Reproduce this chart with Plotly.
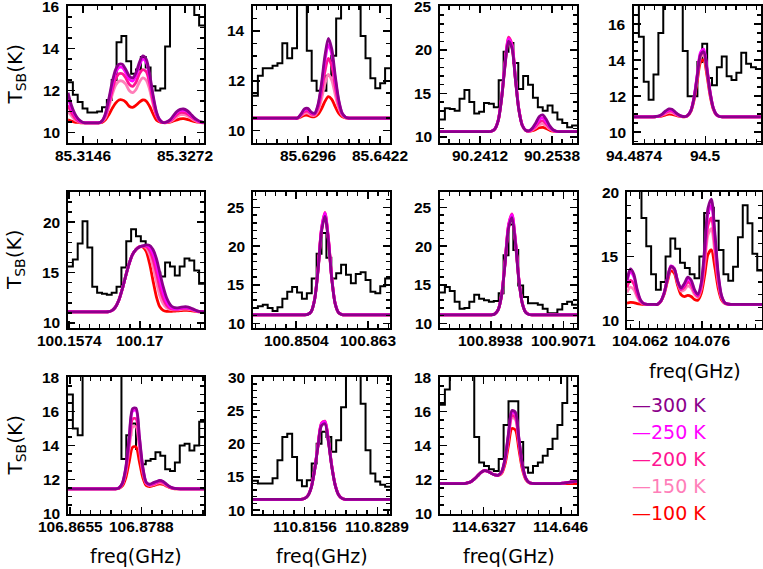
import numpy as np
import plotly.graph_objects as go

# ---------------- data ----------------
TICK_VALS = [[85.3146, 85.3272], [85.6296, 85.6422], [90.2412, 90.2538], [94.4874, 94.5],
             [100.1574, 100.17], [100.8504, 100.863], [100.8938, 100.9071], [104.062, 104.076],
             [106.8655, 106.8788], [110.8156, 110.8289], [114.6327, 114.646]]
TICK_TEXT = [["85.3146", "85.3272"], ["85.6296", "85.6422"], ["90.2412", "90.2538"], ["94.4874", "94.5"],
             ["100.1574", "100.17"], ["100.8504", "100.863"], ["100.8938", "100.9071"], ["104.062", "104.076"],
             ["106.8655", "106.8788"], ["110.8156", "110.8289"], ["114.6327", "114.646"]]

# first channel edge (GHz), channel width of observed spectrum, spacing of model samples
FREQ0 = [85.31275, 85.6200, 90.2342, 94.48735, 100.1572, 100.8428, 100.8845, 104.0592, 106.8651, 110.8062, 114.6252]
FREQ1 = [85.32955, 85.6440, 90.2582, 94.5098, 100.1814, 100.8669, 100.9096, 104.0894, 106.8904, 110.8312, 114.6488]
OBS_DF = [0.0006, 0.000857, 0.000857, 0.000862, 0.000864, 0.000861, 0.000896, 0.001079, 0.000904, 0.000893, 0.000843]
MOD_DF = [0.00042, 0.0006, 0.0006, 0.00056, 0.000605, 0.0006025, 0.0006275, 0.000755, 0.0006325, 0.000625, 0.00059]

OBS_T = [
    [12.4, 11.8, 11.45, 11.15, 10.95, 10.95, 11.0, 11.2, 11.55, 12.5, 14.3, 14.6, 13.4, 12.8, 13.0, 13.6, 13.1, 12.2, 12.0, 12.1, 14.1, 17, 17, 17, 17, 16.2, 15.6, 15.1],
    [11.4, 12.2, 12.5, 12.5, 12.6, 12.7, 13.5, 12.9, 13.3, 16, 16, 13.2, 12.0, 11.6, 11.6, 12.2, 13.0, 14.5, 16, 16, 16, 16, 13.8, 12.9, 12.1, 11.7, 11.9, 12.5],
    [12.0, 13.3, 13.2, 13.0, 14.4, 15.4, 14.0, 12.7, 12.9, 13.9, 13.8, 13.4, 16.5, 19.8, 20.8, 18.5, 15.5, 17.0, 16.0, 14.5, 13.4, 13.0, 13.6, 12.8, 12.0, 11.6, 11.1, 11.3],
    [17.5, 15.3, 12.8, 11.8, 13.2, 15.5, 17.5, 17.5, 17.5, 17.5, 14.5, 12.0, 12.0, 13.9, 14.9, 13.0, 12.6, 13.6, 14.2, 13.1, 12.9, 13.3, 14.4, 13.8, 13.6, 13.5],
    [15.6, 16.3, 17.9, 20.1, 17.5, 13.6, 13.0, 12.9, 12.8, 13.0, 13.6, 15.5, 18.1, 19.3, 18.6, 18.1, 17.6, 16.5, 15.0, 14.6, 16.0, 15.6, 14.7, 15.6, 16.4, 16.2, 15.2, 13.9],
    [12.0, 12.2, 12.4, 12.0, 11.6, 12.1, 13.2, 14.1, 14.7, 14.0, 13.2, 13.9, 15.8, 19.0, 21.7, 18.5, 15.8, 16.5, 17.6, 16.3, 15.2, 16.4, 16.6, 15.6, 14.1, 13.9, 14.8, 15.8],
    [14.0, 14.7, 14.2, 12.8, 11.9, 12.0, 12.8, 13.7, 13.2, 13.0, 12.8, 12.9, 13.9, 18.8, 22.8, 19.5, 14.9, 13.4, 12.6, 12.6, 12.4, 11.9, 11.3, 11.3, 11.8, 12.5, 12.8, 12.4],
    [21, 21, 20.5, 18.0, 15.8, 13.6, 12.4, 13.0, 15.0, 16.4, 15.6, 14.5, 14.1, 13.6, 13.3, 15.0, 18.4, 18.8, 17.8, 15.5, 13.6, 13.1, 14.2, 16.5, 19.0, 17.6, 15.2, 13.9],
    [17.0, 15.0, 14.6, 19, 19, 19, 19, 19, 19, 19, 19, 13.2, 14.6, 15.3, 13.8, 12.9, 13.1, 13.2, 13.6, 13.4, 12.6, 12.5, 13.0, 14.0, 14.1, 13.7, 14.0, 15.4],
    [14.4, 14.0, 14.0, 14.0, 14.8, 17.5, 21.0, 21.5, 18.0, 14.5, 13.6, 14.5, 17.0, 20.0, 21.8, 21.0, 18.8, 20.5, 25.5, 31, 31, 31, 26, 19.0, 15.5, 14.3, 13.8, 13.5],
    [16.4, 17.3, 19, 19, 19, 19, 19, 14.5, 13.0, 12.8, 12.6, 12.5, 13.2, 15.2, 16.6, 16.6, 14.2, 12.7, 12.4, 12.8, 13.0, 13.4, 13.8, 14.4, 15.2, 16.5, 19, 19],
]

T300 = [
    [11.9, 11.3, 10.9, 10.65, 10.52] + [10.46] * 5 + [10.55, 10.9, 11.6, 12.4, 13.0, 13.25, 13.25, 13.0, 12.7, 12.6, 12.85, 13.35, 13.65, 13.5, 12.8, 11.8, 11.0, 10.6, 10.47, 10.5, 10.6, 10.8, 11.0, 11.1, 11.12, 11.05, 10.9, 10.72, 10.6, 10.52, 10.48],
    [10.5] * 14 + [10.66, 10.87, 10.89, 10.74, 10.69, 11.05, 11.89, 13.0, 13.7, 13.28, 12.21, 11.25, 10.71, 10.54] + [10.5] * 13,
    [10.6] * 15 + [10.65, 10.9, 11.87, 14.42, 18.23, 20.99, 20.25, 16.64, 13.14, 11.34, 10.77, 10.71, 11.03, 11.63, 12.34, 12.53, 12.02, 11.3, 10.83, 10.65] + [10.6] * 6,
    [10.85] * 7 + [10.87, 10.91, 11.02, 11.18, 11.29, 11.27, 11.12, 10.98, 10.89, 10.86, 10.94, 11.21, 11.94, 13.16, 14.29, 14.46, 13.51, 12.22, 11.35, 10.98, 10.87] + [10.85] * 13,
    [11.1] * 12 + [11.12, 11.25, 11.6, 12.3, 13.4, 14.7, 15.9, 16.8, 17.3, 17.55, 17.65, 17.75, 17.7, 17.3, 16.4, 15.0, 13.6, 12.5, 11.85, 11.55, 11.5, 11.55, 11.6, 11.6, 11.5, 11.35, 11.2, 11.12, 11.1],
    [11.1] * 16 + [11.16, 11.52, 13.07, 16.86, 21.85, 23.85, 20.7, 15.71, 12.51, 11.37, 11.14] + [11.1] * 14,
    [11.1] * 16 + [11.21, 11.77, 13.64, 17.7, 22.28, 23.67, 20.5, 15.67, 12.62, 11.43, 11.15] + [11.1] * 14,
    [13.18, 14.02, 13.63, 12.43, 11.6, 11.31, 11.25, 11.25, 11.25, 11.25, 11.49, 12.13, 13.29, 14.21, 14.03, 13.06, 12.53, 12.88, 13.38, 13.15, 12.41, 12.03, 12.94, 15.62, 18.78, 19.48, 16.96, 13.74, 11.95, 11.38, 11.27] + [11.25] * 10,
    [11.45] * 15 + [11.51, 11.79, 12.7, 14.5, 16.17, 16.2, 14.53, 12.74, 11.84, 11.72, 11.8, 11.88, 11.95, 11.88, 11.72, 11.57, 11.49, 11.46] + [11.45] * 8,
    [11.6] * 15 + [11.72, 12.14, 13.36, 15.99, 19.67, 22.72, 23.01, 20.32, 16.51, 13.71, 12.27, 11.75] + [11.6] * 14,
    [11.76] * 8 + [11.8, 11.87, 12.02, 12.22, 12.42, 12.52, 12.48, 12.36, 12.27, 12.26, 12.46, 13.24, 14.73, 16.06, 15.96, 14.5, 12.95, 12.1, 11.83, 11.77] + [11.76] * 8 + [11.79, 11.82, 11.85, 11.88, 11.9],
]
T250 = [
    [11.7, 11.15, 10.85, 10.62, 10.5] + [10.46] * 5 + [10.55, 10.85, 11.5, 12.25, 12.85, 13.1, 13.1, 12.85, 12.55, 12.45, 12.7, 13.2, 13.5, 13.35, 12.65, 11.7, 10.95, 10.6, 10.47, 10.5, 10.58, 10.75, 10.95, 11.05, 11.05, 11.0, 10.85, 10.7, 10.58, 10.5, 10.48],
    [10.5] * 14 + [10.65, 10.83, 10.85, 10.71, 10.68, 11.01, 11.78, 12.8, 13.45, 13.07, 12.08, 11.19, 10.7, 10.54] + [10.5] * 13,
    [10.6] * 15 + [10.65, 10.91, 11.91, 14.52, 18.45, 21.28, 20.52, 16.81, 13.22, 11.36, 10.77, 10.69, 10.95, 11.45, 12.02, 12.18, 11.77, 11.18, 10.79, 10.64] + [10.6] * 6,
    [10.85] * 7 + [10.86, 10.9, 11.0, 11.14, 11.24, 11.22, 11.09, 10.96, 10.89, 10.86, 10.94, 11.23, 11.99, 13.26, 14.43, 14.61, 13.62, 12.27, 11.37, 10.98, 10.87] + [10.85] * 13,
    [11.1] * 12 + [11.12, 11.25, 11.6, 12.3, 13.4, 14.7, 15.9, 16.8, 17.3, 17.55, 17.65, 17.7, 17.5, 16.9, 15.8, 14.3, 13.0, 12.1, 11.6, 11.42, 11.4, 11.45, 11.5, 11.5, 11.42, 11.3, 11.18, 11.12, 11.1],
    [11.1] * 16 + [11.17, 11.54, 13.13, 17.04, 22.19, 24.25, 21.0, 15.85, 12.55, 11.38, 11.14] + [11.1] * 14,
    [11.1] * 16 + [11.22, 11.79, 13.72, 17.91, 22.63, 24.07, 20.79, 15.82, 12.67, 11.44, 11.15] + [11.1] * 14,
    [13.01, 13.77, 13.42, 12.32, 11.57, 11.31, 11.25, 11.25, 11.25, 11.25, 11.5, 12.15, 13.33, 14.26, 14.07, 13.07, 12.49, 12.78, 13.23, 13.02, 12.31, 11.98, 12.83, 15.36, 18.34, 18.99, 16.62, 13.59, 11.91, 11.37, 11.27] + [11.25] * 10,
    [11.45] * 15 + [11.51, 11.77, 12.66, 14.41, 16.03, 16.06, 14.44, 12.7, 11.83, 11.7, 11.77, 11.85, 11.93, 11.86, 11.7, 11.56, 11.49, 11.46] + [11.45] * 8,
    [11.6] * 15 + [11.72, 12.15, 13.4, 16.1, 19.88, 23.0, 23.3, 20.54, 16.64, 13.76, 12.28, 11.76] + [11.6] * 14,
    [11.76] * 8 + [11.8, 11.87, 12.02, 12.22, 12.42, 12.52, 12.48, 12.36, 12.27, 12.25, 12.45, 13.21, 14.67, 15.96, 15.86, 14.44, 12.92, 12.09, 11.83, 11.77] + [11.76] * 8 + [11.79, 11.82, 11.85, 11.88, 11.9],
]
T200 = [
    [11.3, 10.95, 10.7, 10.55, 10.48] + [10.46] * 5 + [10.53, 10.8, 11.35, 12.0, 12.55, 12.8, 12.8, 12.6, 12.3, 12.2, 12.4, 12.8, 13.0, 12.9, 12.35, 11.5, 10.85, 10.55, 10.47, 10.5, 10.55, 10.68, 10.85, 10.95, 10.95, 10.9, 10.78, 10.65, 10.55, 10.5, 10.47],
    [10.5] * 14 + [10.62, 10.76, 10.78, 10.67, 10.65, 10.91, 11.54, 12.37, 12.9, 12.59, 11.78, 11.06, 10.66, 10.53] + [10.5] * 13,
    [10.6] * 15 + [10.65, 10.91, 11.93, 14.6, 18.59, 21.48, 20.7, 16.93, 13.26, 11.38, 10.77, 10.67, 10.88, 11.26, 11.71, 11.84, 11.51, 11.05, 10.75, 10.63] + [10.6] * 6,
    [10.85] * 7 + [10.86, 10.89, 10.98, 11.09, 11.17, 11.16, 11.05, 10.94, 10.88, 10.86, 10.94, 11.22, 11.96, 13.19, 14.34, 14.51, 13.55, 12.24, 11.36, 10.98, 10.87] + [10.85] * 13,
    [11.1] * 12 + [11.12, 11.25, 11.6, 12.3, 13.4, 14.7, 15.9, 16.8, 17.3, 17.55, 17.6, 17.6, 17.2, 16.3, 15.0, 13.5, 12.4, 11.75, 11.45, 11.35, 11.35, 11.4, 11.45, 11.45, 11.38, 11.28, 11.17, 11.12, 11.1],
    [11.1] * 16 + [11.17, 11.54, 13.15, 17.09, 22.27, 24.35, 21.08, 15.89, 12.56, 11.38, 11.14] + [11.1] * 14,
    [11.1] * 16 + [11.22, 11.8, 13.74, 17.96, 22.72, 24.17, 20.87, 15.85, 12.68, 11.44, 11.15] + [11.1] * 14,
    [12.56, 13.13, 12.87, 12.05, 11.49, 11.29, 11.25, 11.25, 11.25, 11.25, 11.49, 12.13, 13.29, 14.21, 14.03, 13.03, 12.4, 12.61, 12.99, 12.8, 12.19, 11.88, 12.63, 14.84, 17.44, 18.01, 15.94, 13.29, 11.82, 11.35, 11.26] + [11.25] * 10,
    [11.45] * 15 + [11.5, 11.74, 12.54, 14.1, 15.56, 15.58, 14.13, 12.57, 11.78, 11.67, 11.72, 11.81, 11.88, 11.82, 11.68, 11.55, 11.48, 11.46] + [11.45] * 8,
    [11.6] * 15 + [11.72, 12.16, 13.42, 16.14, 19.95, 23.1, 23.4, 20.61, 16.68, 13.78, 12.29, 11.76] + [11.6] * 14,
    [11.76] * 8 + [11.8, 11.87, 12.02, 12.22, 12.42, 12.52, 12.48, 12.36, 12.27, 12.25, 12.43, 13.16, 14.54, 15.77, 15.67, 14.32, 12.87, 12.08, 11.82, 11.77] + [11.76] * 8 + [11.79, 11.82, 11.85, 11.88, 11.9],
]
T150 = [
    [11.0, 10.8, 10.6, 10.52, 10.47] + [10.46] * 5 + [10.52, 10.7, 11.2, 11.8, 12.25, 12.45, 12.45, 12.3, 12.0, 11.9, 12.05, 12.4, 12.6, 12.5, 12.05, 11.35, 10.8, 10.55, 10.47, 10.48, 10.52, 10.62, 10.75, 10.85, 10.85, 10.8, 10.7, 10.6, 10.52, 10.48, 10.47],
    [10.5] * 14 + [10.59, 10.69, 10.7, 10.62, 10.61, 10.8, 11.26, 11.87, 12.25, 12.02, 11.44, 10.91, 10.62, 10.52] + [10.5] * 13,
    [10.6] * 15 + [10.65, 10.91, 11.92, 14.56, 18.52, 21.38, 20.61, 16.87, 13.24, 11.37, 10.76, 10.65, 10.8, 11.08, 11.4, 11.49, 11.26, 10.92, 10.71, 10.62] + [10.6] * 6,
    [10.85] * 7 + [10.86, 10.88, 10.95, 11.03, 11.1, 11.08, 11.0, 10.92, 10.87, 10.86, 10.93, 11.2, 11.9, 13.07, 14.15, 14.31, 13.41, 12.16, 11.33, 10.97, 10.87] + [10.85] * 13,
    [11.1] * 12 + [11.12, 11.25, 11.6, 12.3, 13.4, 14.7, 15.9, 16.8, 17.3, 17.55, 17.6, 17.45, 16.8, 15.6, 14.1, 12.7, 11.9, 11.5, 11.35, 11.3, 11.3, 11.33, 11.38, 11.38, 11.33, 11.25, 11.15, 11.1, 11.1],
    [11.1] * 16 + [11.17, 11.53, 13.13, 17.02, 22.15, 24.2, 20.96, 15.83, 12.55, 11.38, 11.14] + [11.1] * 14,
    [11.1] * 16 + [11.22, 11.79, 13.71, 17.89, 22.58, 24.02, 20.76, 15.8, 12.67, 11.44, 11.15] + [11.1] * 14,
    [12.18, 12.59, 12.4, 11.82, 11.42, 11.28, 11.25, 11.25, 11.25, 11.25, 11.49, 12.11, 13.23, 14.11, 13.93, 12.94, 12.29, 12.39, 12.69, 12.53, 12.02, 11.79, 12.46, 14.4, 16.68, 17.18, 15.36, 13.04, 11.75, 11.34, 11.26] + [11.25] * 10,
    [11.45] * 15 + [11.5, 11.71, 12.41, 13.8, 15.08, 15.11, 13.82, 12.44, 11.75, 11.64, 11.68, 11.76, 11.82, 11.77, 11.65, 11.54, 11.48, 11.46] + [11.45] * 8,
    [11.6] * 15 + [11.72, 12.15, 13.39, 16.08, 19.85, 22.95, 23.25, 20.5, 16.62, 13.75, 12.28, 11.76] + [11.6] * 14,
    [11.76] * 8 + [11.8, 11.87, 12.02, 12.22, 12.42, 12.52, 12.48, 12.36, 12.27, 12.25, 12.42, 13.11, 14.44, 15.63, 15.53, 14.22, 12.83, 12.07, 11.82, 11.77] + [11.76] * 8 + [11.79, 11.82, 11.85, 11.88, 11.9],
]
T100 = [
    [10.6, 10.55, 10.5, 10.48, 10.46] + [10.46] * 5 + [10.48, 10.6, 10.85, 11.15, 11.4, 11.55, 11.55, 11.45, 11.25, 11.2, 11.3, 11.45, 11.55, 11.5, 11.25, 10.9, 10.6, 10.5, 10.47, 10.47, 10.5, 10.55, 10.6, 10.65, 10.66, 10.63, 10.58, 10.53, 10.5, 10.47, 10.46],
    [10.5] * 14 + [10.55, 10.61, 10.61, 10.56, 10.56, 10.65, 10.87, 11.17, 11.36, 11.25, 10.96, 10.7, 10.56, 10.51] + [10.5] * 13,
    [10.6] * 15 + [10.65, 10.9, 11.88, 14.45, 18.3, 21.09, 20.34, 16.7, 13.17, 11.35, 10.75, 10.63, 10.71, 10.87, 11.05, 11.1, 10.97, 10.78, 10.66, 10.61] + [10.6] * 6,
    [10.85] * 7 + [10.86, 10.87, 10.91, 10.96, 11.0, 10.99, 10.94, 10.89, 10.86, 10.85, 10.92, 11.17, 11.81, 12.88, 13.87, 14.02, 13.19, 12.05, 11.29, 10.96, 10.87] + [10.85] * 13,
    [11.1] * 12 + [11.12, 11.25, 11.6, 12.3, 13.4, 14.7, 15.9, 16.8, 17.3, 17.55, 17.55, 17.1, 15.9, 14.2, 12.6, 11.6, 11.25, 11.15, 11.15, 11.17, 11.2, 11.22, 11.25, 11.25, 11.22, 11.18, 11.13, 11.1, 11.1],
    [11.1] * 16 + [11.17, 11.53, 13.1, 16.95, 22.02, 24.05, 20.85, 15.78, 12.53, 11.37, 11.14] + [11.1] * 14,
    [11.1] * 16 + [11.22, 11.78, 13.68, 17.81, 22.45, 23.87, 20.65, 15.74, 12.65, 11.44, 11.15] + [11.1] * 14,
    [11.35, 11.4, 11.38, 11.31, 11.27, 11.25, 11.25, 11.25, 11.25, 11.25, 11.47, 12.03, 13.06, 13.87, 13.69, 12.74, 12.01, 11.86, 11.96, 11.87, 11.63, 11.58, 12.11, 13.51, 15.15, 15.51, 14.21, 12.54, 11.61, 11.32, 11.26] + [11.25] * 10,
    [11.45] * 15 + [11.48, 11.62, 12.1, 13.04, 13.9, 13.92, 13.05, 12.12, 11.65, 11.58, 11.63, 11.7, 11.75, 11.71, 11.61, 11.52, 11.47, 11.45] + [11.45] * 8,
    [11.6] * 15 + [11.72, 12.15, 13.39, 16.06, 19.81, 22.9, 23.2, 20.47, 16.6, 13.74, 12.28, 11.75] + [11.6] * 14,
    [11.76] * 8 + [11.8, 11.87, 12.02, 12.22, 12.42, 12.52, 12.48, 12.36, 12.27, 12.24, 12.36, 12.92, 14.02, 15.0, 14.92, 13.82, 12.65, 12.02, 11.81, 11.77] + [11.76] * 8 + [11.76] * 5,
]

TEMP_LABELS = ["300 K", "250 K", "200 K", "150 K", "100 K"]

# ---------------- styling / layout ----------------
Y_RANGE = [[9.5, 16.03], [9.5, 15.0], [9.3, 25.05], [9.4, 17.0], [9.5, 23.0], [9.4, 27.0],
           [9.4, 27.0], [9.4, 20.04], [9.97, 18.03], [9.4, 30.05], [9.97, 18.03]]
Y_STEP = [2, 2, 5, 2, 5, 5, 5, 5, 2, 5, 2]
COLORS = {"300 K": "#8B008B", "250 K": "#FF00FF", "200 K": "#FF1493", "150 K": "#FF7EB9", "100 K": "#FF0000"}

W, H = 763, 569
COLS = [(68, 204), (253, 390), (440, 577), (634, 761)]
ROWS = [(6, 143), (192, 328), (377, 514)]
BOXES = []
for k in range(11):
    r, c = divmod(k, 4)
    xs = COLS[c] if k != 7 else (627, 762)
    BOXES.append((xs, ROWS[r]))

FONT = "DejaVu Sans"
TFONT = dict(family="Liberation Sans", size=15.5, color="black", weight="bold")

fig = go.Figure()
layout = {}
ann = []
for k in range(11):
    sfx = "" if k == 0 else str(k + 1)
    xa, ya = "x" + sfx, "y" + sfx
    ox = FREQ0[k] + OBS_DF[k] * np.arange(len(OBS_T[k]) + 1)
    oy = list(OBS_T[k]) + [OBS_T[k][-1]]
    fig.add_trace(go.Scatter(x=ox, y=oy, mode="lines", xaxis=xa, yaxis=ya, showlegend=False,
                             line=dict(color="black", width=2, shape="hv"), hoverinfo="skip"))
    for lab, series in zip(TEMP_LABELS[::-1], [T100, T150, T200, T250, T300]):
        vals = series[k]
        mx = FREQ0[k] + MOD_DF[k] * np.arange(len(vals))
        fig.add_trace(go.Scatter(x=mx, y=vals, mode="lines", xaxis=xa, yaxis=ya, showlegend=False,
                                 line=dict(color=COLORS[lab], width=2.8, shape="spline", smoothing=0.8),
                                 hoverinfo="skip"))
    (x0, x1), (y0, y1) = BOXES[k]
    a, b = TICK_VALS[k]
    d = (b - a) / 7.0
    minor_x = [a + i * d for i in range(-20, 30) if FREQ0[k] < a + i * d < FREQ1[k]]
    ax_common = dict(showline=True, linecolor="black", linewidth=2, mirror="allticks",
                     ticks="inside", ticklen=7, tickwidth=1.6, tickcolor="black",
                     showgrid=False, zeroline=False, automargin=False, showticklabels=False)
    layout["xaxis" + sfx] = dict(domain=[x0 / W, x1 / W], anchor=ya, range=[FREQ0[k], FREQ1[k]],
                                 tickmode="array", tickvals=[a, b],
                                 minor=dict(tickmode="array", tickvals=minor_x, ticks="inside",
                                            ticklen=4, tickwidth=1.4, tickcolor="black"),
                                 **ax_common)
    st = Y_STEP[k]
    layout["yaxis" + sfx] = dict(domain=[1 - y1 / H, 1 - y0 / H], anchor=xa, range=Y_RANGE[k],
                                 tickmode="linear", tick0=0, dtick=st,
                                 minor=dict(tick0=0, dtick=(0.5 if st == 2 else 1), ticks="inside",
                                            ticklen=4, tickwidth=1.4, tickcolor="black"),
                                 **ax_common)
    # tick labels
    for v, t in zip(TICK_VALS[k], TICK_TEXT[k]):
        ann.append(dict(text=t, x=v, xref=xa, y=0, yref=ya + " domain", xanchor="center", yanchor="middle",
                        yshift=-12, showarrow=False, font=TFONT))
    lo, hi = Y_RANGE[k]
    v = st * np.ceil(lo / st)
    while v <= hi + 1e-9:
        ann.append(dict(text=str(int(round(v))), x=0, xref=xa + " domain", y=v, yref=ya,
                        xanchor="right", yanchor="middle", xshift=-6,
                        showarrow=False, font=TFONT))
        v += st

for (y0, y1) in ROWS:
    ann.append(dict(text="T<sub>SB</sub>(K)", x=15 / W, y=1 - (y0 + y1) / 2 / H, xref="paper", yref="paper",
                    textangle=-90, showarrow=False, xanchor="center", yanchor="middle",
                    font=dict(family=FONT, size=20, color="black")))
for cx, cy in [(136, 556), (321.5, 556), (508.5, 556), (694.5, 371)]:
    ann.append(dict(text="freq(GHz)", x=cx / W, y=1 - cy / H, xref="paper", yref="paper",
                    showarrow=False, xanchor="center", yanchor="middle",
                    font=dict(family=FONT, size=19, color="black")))
for i, lab in enumerate(TEMP_LABELS):
    ann.append(dict(text="\u2014" + lab, x=630 / W, y=1 - (405 + 27 * i) / H, xref="paper", yref="paper",
                    showarrow=False, xanchor="left", yanchor="middle",
                    font=dict(family=FONT, size=19, color=COLORS[lab])))

fig.update_layout(width=W, height=H, margin=dict(l=0, r=0, t=0, b=0, autoexpand=False), autosize=False,
                  paper_bgcolor="white", plot_bgcolor="white", annotations=ann, **layout)
fig.write_html("out.html", config={"displayModeBar": False, "staticPlot": True},
               post_script="document.body.style.margin='0';document.body.style.overflow='hidden';")
